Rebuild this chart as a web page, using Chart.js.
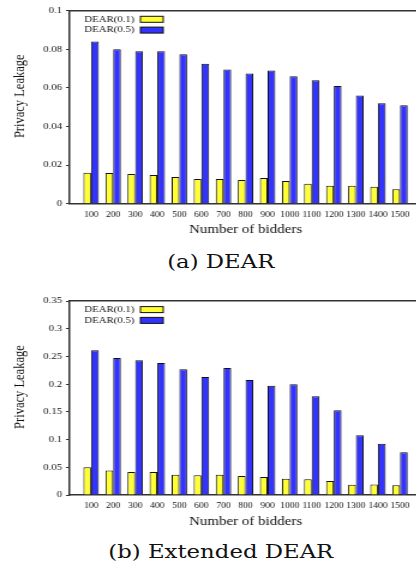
<!DOCTYPE html>
<html>
<head>
<meta charset="utf-8">
<script src="https://cdn.jsdelivr.net/npm/chart.js@4.4.1/dist/chart.umd.min.js"></script>
<style>
  html, body { margin: 0; padding: 0; background: #fff; width: 416px; height: 562px; overflow: hidden; }
  .wrap { position: absolute; left: 0; width: 360px; transform: scaleX(1.2); transform-origin: 0 0; }
  canvas { display: block; }
  .caption { position: absolute; left: 0; width: 368px; text-align: center; font-family: "DejaVu Serif", serif; font-size: 19px; line-height: 24px; color: #111; }
</style>
</head>
<body>
<div class="wrap" style="top:0px"><canvas id="chartA" width="360" height="242"></canvas></div>
<div class="wrap" style="top:249px"><div class="caption" style="top:0">(a) DEAR</div></div>
<div class="wrap" style="top:290px"><canvas id="chartB" width="360" height="244"></canvas></div>
<div class="wrap" style="top:539px"><div class="caption" style="top:0">(b) Extended DEAR</div></div>
<script>
const bidders = [100, 200, 300, 400, 500, 600, 700, 800, 900, 1000, 1100, 1200, 1300, 1400, 1500]
const seriesNames = ['DEAR(0.1)', 'DEAR(0.5)']

const dear01 = [0.016, 0.0159, 0.0154, 0.0149, 0.0138, 0.0128, 0.0128, 0.0123, 0.0133, 0.0118, 0.0104, 0.0093, 0.0093, 0.0088, 0.0075]
const dear05 = [0.084, 0.080, 0.079, 0.079, 0.0775, 0.0725, 0.0695, 0.0675, 0.069, 0.066, 0.064, 0.061, 0.056, 0.052, 0.051]

const ext01 = [0.050, 0.044, 0.0415, 0.0415, 0.0367, 0.0355, 0.0367, 0.0343, 0.0325, 0.0295, 0.0283, 0.0253, 0.0186, 0.019, 0.0175]
const ext05 = [0.261, 0.247, 0.243, 0.238, 0.227, 0.213, 0.229, 0.2075, 0.197, 0.200, 0.178, 0.153, 0.1077, 0.0926, 0.077]

const yTicksA = {max: 0.1, step: 0.02}
const yTicksB = {max: 0.35, step: 0.05}

const serif = '"Liberation Serif", "Times New Roman", serif'
const frameColor = '#333'

// gnuplot style key: text first, sample box after it, inside the plot
const keyInside = {
    id: 'keyInside',
    afterDatasetsDraw(chart) {
        const {ctx, chartArea} = chart
        ctx.save()
        ctx.font = '9px ' + serif
        ctx.textAlign = 'right'
        ctx.textBaseline = 'middle'
        chart.data.datasets.forEach((ds, i) => {
            const y = chartArea.top + 8.6 + i * 10.8
            ctx.fillStyle = '#111'
            ctx.fillText(ds.label, chartArea.left + 54.5, y)
            ctx.fillStyle = ds.backgroundColor
            ctx.fillRect(chartArea.left + 59.5, y - 3, 19, 6)
            ctx.strokeStyle = '#111'
            ctx.lineWidth = 1
            ctx.strokeRect(chartArea.left + 59.5, y - 3, 19, 6)
        })
        ctx.restore()
    }
}

function makeChart(id, low, high, yt, padTop, areaBottom) {
    const canvas = document.getElementById(id)
    const labels = ['', ...bidders.map(String), '']
    const pad = arr => [null, ...arr, null]
    return new Chart(canvas, {
        type: 'bar',
        data: {
            labels: labels,
            datasets: [{
                label: seriesNames[0],
                data: pad(low),
                backgroundColor: '#ffff33',
                borderColor: '#111',
                borderWidth: 1
            }, {
                label: seriesNames[1],
                data: pad(high),
                backgroundColor: '#3333ff',
                borderColor: '#111',
                borderWidth: 1
            }]
        },
        options: {
            responsive: false,
            animation: false,
            devicePixelRatio: 1,
            layout: {padding: {top: padTop, right: 8.3, left: 0, bottom: 0}},
            datasets: {bar: {categoryPercentage: 0.7, barPercentage: 1.0}},
            plugins: {legend: {display: false}, tooltip: {enabled: false}},
            scales: {
                x: {
                    offset: false,
                    grid: {display: false, drawTicks: false},
                    border: {display: true, color: frameColor, width: 1.5},
                    ticks: {autoSkip: false, maxRotation: 0, padding: 6.5, color: '#111', font: {family: serif, size: 8}},
                    title: {display: true, text: 'Number of bidders', color: '#111', font: {family: serif, size: 12.5}, padding: {top: 0, bottom: 4.5}},
                    afterFit: s => { s.height = canvas.height - areaBottom }
                },
                x2: {
                    position: 'top',
                    offset: false,
                    grid: {display: false, drawTicks: false},
                    border: {display: true, color: frameColor, width: 1.5},
                    ticks: {display: false},
                    afterFit: s => { s.height = 0 }
                },
                y: {
                    min: 0,
                    max: yt.max,
                    grid: {display: true, drawOnChartArea: false, drawTicks: true, tickLength: 2.5, tickColor: frameColor, lineWidth: 1},
                    border: {display: true, color: frameColor, width: 1.5},
                    ticks: {
                        stepSize: yt.step,
                        padding: 3.3,
                        color: '#111',
                        font: {family: serif, size: 9},
                        callback: v => String(parseFloat(v.toFixed(4)))
                    },
                    title: {display: true, text: '       Privacy Leakage', color: '#111', font: {family: serif, size: 12.5}, padding: {top: 9, bottom: 0}},
                    afterFit: s => { s.width = 57.5 }
                }
            }
        },
        plugins: [keyInside]
    })
}

makeChart('chartA', dear01, dear05, yTicksA, 10.7, 203.7)
makeChart('chartB', ext01, ext05, yTicksB, 11, 205)
</script>
</body>
</html>
